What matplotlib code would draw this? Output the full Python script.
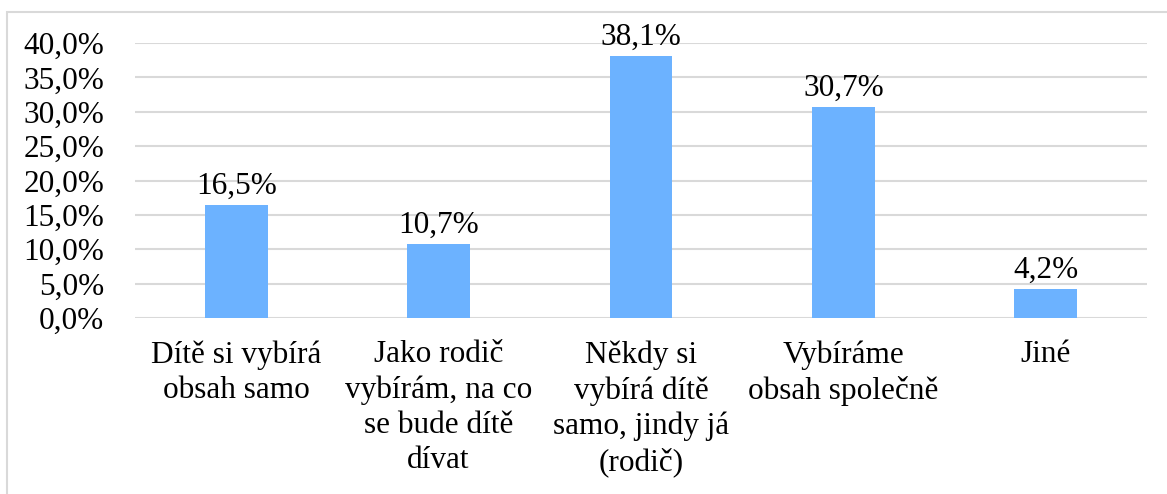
import matplotlib.pyplot as plt
from matplotlib.patches import Rectangle

# data
categories = ["Dítě si vybírá\nobsah samo",
              "Jako rodič\nvybírám, na co\nse bude dítě\ndívat",
              "Někdy si\nvybírá dítě\nsamo, jindy já\n(rodič)",
              "Vybíráme\nobsah společně",
              "Jiné"]
values = [16.5, 10.7, 38.1, 30.7, 4.2]
yticks = [0, 5, 10, 15, 20, 25, 30, 35, 40]

plt.rcParams['font.family'] = ['Liberation Serif', 'DejaVu Serif']

fig = plt.figure(figsize=(11.67, 4.94), dpi=100)
ax = fig.add_axes([135/1167, 1-318/494, 1012/1167, 275/494])

x = list(range(len(categories)))
ax.bar(x, values, width=0.31, color='#6cb2ff', zorder=2)

for xi, v in zip(x, values):
    ax.text(xi, v + 0.6, f"{v:.1f}%".replace('.', ','), ha='center', va='bottom',
            fontsize=22.5, color='black')

ax.set_xlim(-0.5, len(categories) - 0.5)
ax.set_ylim(0, 40)
ax.set_yticks(yticks)
ax.set_yticklabels([f"{t:.1f}%".replace('.', ',') for t in yticks], fontsize=22.5)
ax.set_xticks(x)
ax.set_xticklabels(categories, fontsize=22.5, linespacing=1.28, ha='center')
ax.tick_params(axis='both', length=0)
ax.tick_params(axis='x', pad=16)
ax.tick_params(axis='y', pad=22)

ax.grid(axis='y', color='#d9d9d9', linewidth=1.5, zorder=0)
for s in ax.spines.values():
    s.set_visible(False)

# outer frame of the chart
fig.patches.append(Rectangle((7/1167, -0.5), 2, 1.5 - 12/494, transform=fig.transFigure,
                             fill=False, edgecolor='#d9d9d9', linewidth=1.5))

fig.savefig('out.png', dpi=100)
